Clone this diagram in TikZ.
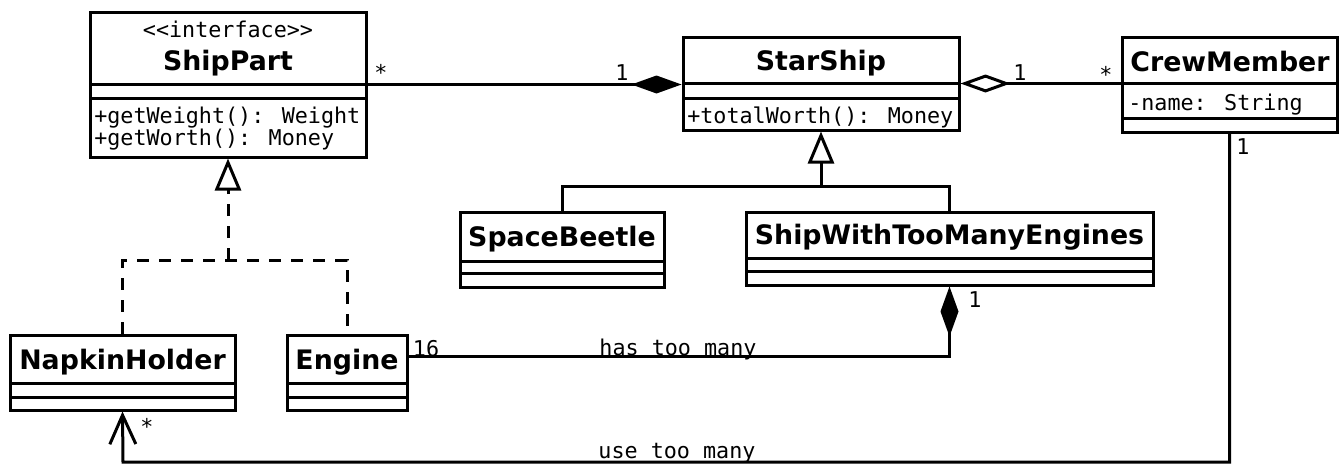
\documentclass[tikz,border=0pt]{standalone}
\usepackage{fontspec}
\usetikzlibrary{arrows.meta,calc,fit}
\newfontfamily\umlsans{DejaVu Sans}
\newfontfamily\umlmono{DejaVu Sans Mono}
\begin{document}
\begin{tikzpicture}[x=0.75pt,y=-0.75pt,
  box/.style={draw,line width=2.25pt,inner sep=0pt},
  div/.style={line width=2.25pt},
  cname/.style={font=\umlsans\bfseries\fontsize{20.1}{22}\selectfont,anchor=base,inner sep=0pt},
  member/.style={font=\umlmono\fontsize{16.3}{19}\selectfont,anchor=base west,inner sep=0pt},
  mult/.style={font=\umlmono\fontsize{16.3}{19}\selectfont,anchor=base,inner sep=0pt},
  conn/.style={line width=2.25pt},
  comp/.style={conn,-{Diamond[length=37.5pt,width=13.5pt]}},
  agg/.style={conn,{Diamond[open,length=37.5pt,width=13.5pt]}-},
  gen/.style={conn,-{Triangle[open,length=24pt,width=19.5pt]}},
  real/.style={conn,dash pattern=on 9pt off 7.5pt},
  nav/.style={conn,-{Straight Barb[length=21.75pt,width=19.5pt]}}]
\useasboundingbox (0,0) rectangle (1340,464);
% ShipPart
\node[box,fit={(90,12) (366,157)}] (sp) {};
\draw[div] (90,84) -- (366,84);
\draw[div] (90,98) -- (366,98);
\node[mult] (spst) at (228,37) {{<}{<}interface{>}{>}};
\node[cname] (spn) at (228,70) {ShipPart};
\node[member] (spm1) at (94,123) {+getWeight(): Weight};
\node[member] (spm2) at (94,145) {+getWorth(): Money};
% StarShip
\node[box,fit={(683,37) (959,130)}] (ss) {};
\draw[div] (683,83) -- (959,83);
\draw[div] (683,98) -- (959,98);
\node[cname] (ssn) at (821,70) {StarShip};
\node[member] (ssm) at (687,123) {+totalWorth(): Money};
% CrewMember
\node[box,fit={(1122,37) (1337,132)}] (cm) {};
\draw[div] (1122,83) -- (1337,83);
\draw[div] (1122,118) -- (1337,118);
\node[cname] (cmn) at (1230,71) {CrewMember};
\node[member] (cma) at (1128,110) {-name: String};
% SpaceBeetle
\node[box,fit={(460,212) (664,287)}] (sb) {};
\draw[div] (460,261) -- (664,261);
\draw[div] (460,273) -- (664,273);
\node[cname] (sbn) at (562,246) {SpaceBeetle};
% ShipWithTooManyEngines
\node[box,fit={(746,212) (1153,285)}] (sw) {};
\draw[div] (746,258) -- (1153,258);
\draw[div] (746,271) -- (1153,271);
\node[cname] (swn) at (949.5,244) {ShipWithTooManyEngines};
% NapkinHolder
\node[box,fit={(10,335) (235,410)}] (nh) {};
\draw[div] (10,383) -- (235,383);
\draw[div] (10,397) -- (235,397);
\node[cname] (nhn) at (122.5,369) {NapkinHolder};
% Engine
\node[box,fit={(287,335) (407,410)}] (en) {};
\draw[div] (287,383) -- (407,383);
\draw[div] (287,397) -- (407,397);
\node[cname] (enn) at (347,369) {Engine};
% connectors
\draw[comp] (sp.east) -- (sp.east -| ss.west);
\node[mult] (l1) at (381,80) {*};
\node[mult] (l2) at (622,80) {1};
\draw[agg] (ss.east) -- (ss.east -| cm.west);
\node[mult] (l3) at (1020,80) {1};
\node[mult] (l4) at (1106,82) {*};
% generalization
\coordinate (genj) at (821,186);
\draw[gen] (genj) -- (ss.south);
\draw[conn] (sb.north) |- (genj) -| (sw.north);
% realization
\coordinate (realj) at (228,260);
\draw[gen,dash pattern=on 9pt off 7.5pt] (realj) -- (sp.south);
\draw[real] (nh.north) |- (realj) -| (en.north);
% has too many
\coordinate (ena) at ($(en.north east)+(0,23)$);
\draw[comp] (ena) -| (sw.south);
\node[mult] (l5) at (426,356) {16};
\node[mult] (l6) at (975,307) {1};
\node[mult] (hasl) at (678,355) {has too many};
% use too many
\coordinate (usej) at (123,462);
\draw[nav] (cm.south) |- (usej) -- (nh.south);
\node[mult] (l7) at (1243,154) {1};
\node[mult] (l8) at (147,434) {*};
\node[mult] (usel) at (677,458) {use too many};
\end{tikzpicture}
\end{document}
